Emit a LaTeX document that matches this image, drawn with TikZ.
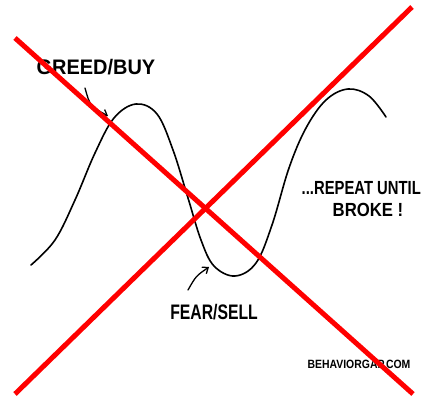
\documentclass[tikz,border=0pt]{standalone}
\usepackage{fontspec}
\setmainfont{Liberation Sans}
\usetikzlibrary{arrows.meta}
\tikzset{
  hand/.style={font=\fontsize{#1}{#1}\selectfont\bfseries, inner sep=0pt, text=black},
  wave/.style={line width=1.6pt, black, line cap=round},
  pointer/.style={line width=1.3pt, black, line cap=round, -{Straight Barb[length=5pt,width=8pt]}},
  cross/.style={line width=5pt, red}
}
\begin{document}
\begin{tikzpicture}[x=1pt,y=-1pt]
\useasboundingbox (0,0) rectangle (422,398);
\fill[white] (0,0) rectangle (422,398);
% wave
\draw[wave] plot[smooth, tension=0.6] coordinates {(31,265) (55,240) (75,200) (95,153) (114,118) (136,104) (157,114) (173,150) (188,198) (201,240) (214,266) (235,276) (256,263) (272,225) (289,168) (306,128) (326,100) (348,89) (369,96) (386,117)};
% labels
\node[hand=21] (greed) at (96,67) {\scalebox{0.95}[1]{GREED/BUY}};
\node[hand=21] (fear) at (214,312) {\scalebox{0.75}[1]{FEAR/SELL}};
\node[hand=19, anchor=east] (repeat) at (421,188) {\scalebox{0.78}[1]{...REPEAT UNTIL}};
\node[hand=19] (broke) at (368,210) {\scalebox{0.88}[1]{BROKE !}};
\node[hand=12] (site) at (359,364) {\scalebox{0.87}[1]{BEHAVIORGAP.COM}};
% pointers
\coordinate (gs) at (85,88);
\coordinate (ge) at (108,116);
\coordinate (fs) at (188,290);
\coordinate (fe) at (209,267);
\draw[pointer] (gs) .. controls (90,106) .. (ge);
\draw[pointer] (fs) .. controls (196,276) .. (fe);
% red cross
\coordinate (a1) at (15,38);
\coordinate (a2) at (413,394);
\coordinate (b1) at (412,7);
\coordinate (b2) at (15,394);
\draw[cross] (a1) -- (a2);
\draw[cross] (b1) -- (b2);
\end{tikzpicture}
\end{document}
